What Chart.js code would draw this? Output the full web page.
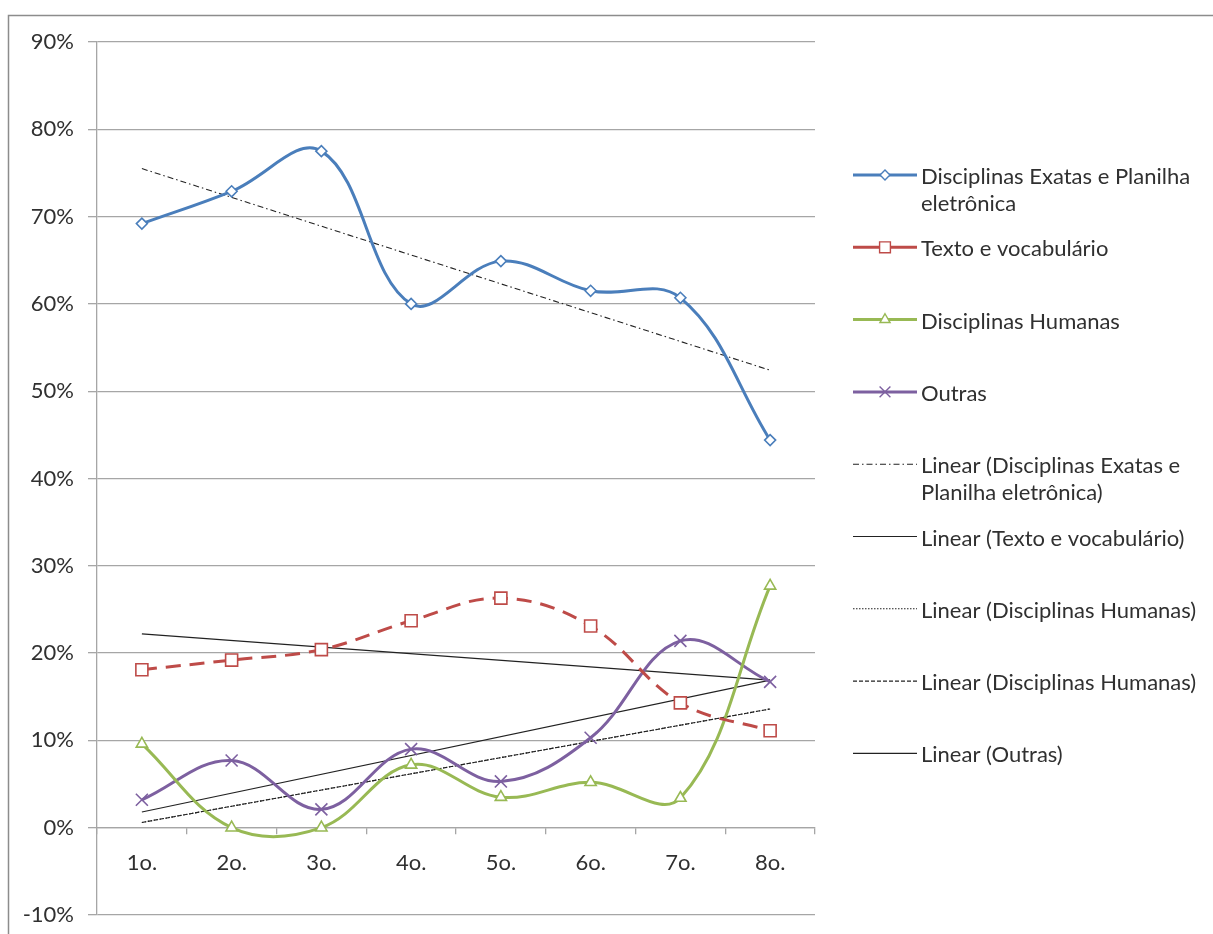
<!DOCTYPE html>
<html>
<head>
<meta charset="utf-8">
<script src="https://cdn.jsdelivr.net/npm/chart.js@4.4.1/dist/chart.umd.min.js"></script>
<style>
  body { margin: 0; background: #fff; }
  canvas { display: block; }
</style>
</head>
<body>
<canvas id="chart" width="1213" height="934"></canvas>
<script>
// categories and series (percent values)
const categories = ['1o.', '2o.', '3o.', '4o.', '5o.', '6o.', '7o.', '8o.'];
const exatas = [69.2, 72.9, 77.5, 60.0, 64.9, 61.5, 60.7, 44.4];
const texto = [18.1, 19.2, 20.4, 23.7, 26.3, 23.1, 14.3, 11.1];
const humanas = [9.6, 0.0, 0.0, 7.2, 3.5, 5.2, 3.4, 27.7];
const outras = [3.2, 7.7, 2.1, 9.0, 5.3, 10.3, 21.4, 16.7];

// trendline end values (first and last category)
const trendExatas = [75.5, null, null, null, null, null, null, 52.4];
const trendTexto = [22.2, null, null, null, null, null, null, 16.9];
const trendHumanas = [0.6, null, null, null, null, null, null, 13.6];
const trendOutras = [1.8, null, null, null, null, null, null, 16.9];

const yTicks = { min: -10, max: 90, step: 10 };

const FONT = 'Lato, "Open Sans", sans-serif';
const GRID = '#a6a6a6';
const TEXT = '#303030';

function series(label, data, color, style, radius, dash) {
  return {
    label, data,
    borderColor: color, backgroundColor: '#fff',
    borderWidth: 3, borderDash: dash || [],
    tension: 0.38,
    pointStyle: style, pointRadius: radius, pointHoverRadius: radius,
    pointBorderColor: color, pointBackgroundColor: '#fff', pointBorderWidth: 1.6
  };
}
function trend(label, data, dash) {
  return {
    label, data,
    borderColor: '#222', borderWidth: 1.1, borderDash: dash,
    pointRadius: 0, tension: 0, spanGaps: true, fill: false
  };
}

// frame of the chart area (top and left edges visible)
const framePlugin = {
  id: 'frame',
  beforeDraw(chart) {
    const c = chart.ctx;
    c.save();
    c.strokeStyle = '#8c8c8c';
    c.lineWidth = 1.5;
    c.beginPath();
    c.moveTo(8.5, 934);
    c.lineTo(8.5, 15.5);
    c.lineTo(1213, 15.5);
    c.stroke();
    c.restore();
  }
};

// legend on the right, with wrapped text
const legendPlugin = {
  id: 'sideLegend',
  afterDraw(chart) {
    const c = chart.ctx;
    const x0 = 853, x1 = 917, tx = 921, maxW = 292;
    let y = 177;
    c.save();
    c.font = '22px ' + FONT;
    chart.data.datasets.forEach(ds => {
      const sy = y - 2;
      c.strokeStyle = ds.borderColor;
      c.lineWidth = ds.borderWidth > 2 ? 3 : 1.1;
      c.setLineDash(ds.borderWidth > 2 ? [] : ds.borderDash);
      c.beginPath();
      c.moveTo(x0, sy);
      c.lineTo(x1, sy);
      c.stroke();
      c.setLineDash([]);
      if (ds.pointRadius) {
        c.strokeStyle = ds.pointBorderColor;
        c.fillStyle = '#fff';
        c.lineWidth = 1.4;
        Chart.helpers.drawPoint(c, {
          pointStyle: ds.pointStyle, radius: ds.pointRadius * 0.9,
          rotation: 0, borderWidth: 1.4
        }, (x0 + x1) / 2, sy);
      }
      // wrap words
      const words = ds.label.split(' ');
      const lines = [];
      let cur = '';
      words.forEach(w => {
        const t = cur ? cur + ' ' + w : w;
        if (c.measureText(t).width > maxW && cur) { lines.push(cur); cur = w; }
        else cur = t;
      });
      lines.push(cur);
      c.fillStyle = TEXT;
      c.textBaseline = 'middle';
      c.textAlign = 'left';
      lines.forEach((ln, i) => c.fillText(ln, tx, y + i * 27));
      y += 72.3;
    });
    c.restore();
  }
};

new Chart(document.getElementById('chart'), {
  type: 'line',
  data: {
    labels: categories,
    datasets: [
      series('Disciplinas Exatas e Planilha eletrônica', exatas, '#4a7ebb', 'rectRot', 5.5),
      series('Texto e vocabulário', texto, '#be4b48', 'rect', 8.5, [15, 9]),
      series('Disciplinas Humanas', humanas, '#98b954', 'triangle', 6.5),
      series('Outras', outras, '#7d60a0', 'crossRot', 8.5),
      trend('Linear (Disciplinas Exatas e Planilha eletrônica)', trendExatas, [6, 3, 1.5, 3]),
      trend('Linear (Texto e vocabulário)', trendTexto, []),
      trend('Linear (Disciplinas Humanas)', trendHumanas, [1.5, 1.5]),
      trend('Linear (Disciplinas Humanas)', trendHumanas, [4, 2]),
      trend('Linear (Outras)', trendOutras, [])
    ]
  },
  options: {
    responsive: false,
    animation: false,
    layout: { padding: { top: 42, bottom: 19, left: 0, right: 398 } },
    plugins: {
      legend: { display: false },
      tooltip: { enabled: false }
    },
    scales: {
      x: {
        type: 'category',
        position: { y: 0 },
        offset: true,
        afterFit: s => { s.height = 0; s.paddingTop = 0; s.paddingBottom = 0; },
        grid: { offset: true, drawOnChartArea: false, tickLength: 6, color: GRID, lineWidth: 1.3 },
        border: { color: GRID, width: 1.3 },
        ticks: { padding: 16, color: TEXT, font: { family: FONT, size: 22 } }
      },
      y: {
        min: yTicks.min, max: yTicks.max,
        afterFit: s => { s.width = 97; s.paddingTop = 0; s.paddingBottom = 0; },
        grid: { color: GRID, lineWidth: 1.3, tickLength: 9 },
        border: { color: GRID, width: 1.3 },
        ticks: {
          stepSize: yTicks.step, padding: 14, color: TEXT,
          font: { family: FONT, size: 22 },
          callback: v => v + '%'
        }
      }
    }
  },
  plugins: [framePlugin, legendPlugin]
});
</script>
</body>
</html>
